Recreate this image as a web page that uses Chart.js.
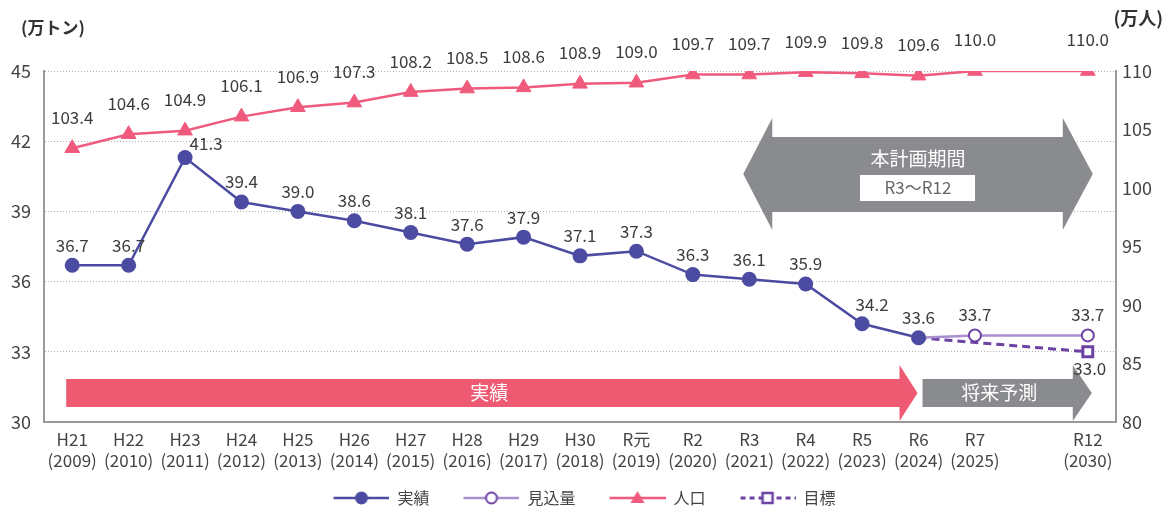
<!DOCTYPE html>
<html>
<head>
<meta charset="utf-8">
<script src="https://cdn.jsdelivr.net/npm/chart.js@4/dist/chart.umd.min.js"></script>
<style>
html, body { margin: 0; padding: 0; background: #fff; }
#wrap { width: 1169px; height: 510px; }
</style>
</head>
<body>
<div id="wrap"><canvas id="chart"></canvas></div>
<script>
'use strict';

// categories (one empty slot between R7 and R12)
const periods = ['H21', 'H22', 'H23', 'H24', 'H25', 'H26', 'H27', 'H28', 'H29', 'H30',
                 'R元', 'R2', 'R3', 'R4', 'R5', 'R6', 'R7', '', 'R12'];
const years = ['(2009)', '(2010)', '(2011)', '(2012)', '(2013)', '(2014)', '(2015)', '(2016)',
               '(2017)', '(2018)', '(2019)', '(2020)', '(2021)', '(2022)', '(2023)', '(2024)',
               '(2025)', '', '(2030)'];

// 万トン
const actual = [36.7, 36.7, 41.3, 39.4, 39.0, 38.6, 38.1, 37.6, 37.9, 37.1,
                37.3, 36.3, 36.1, 35.9, 34.2, 33.6, null, null, null];
const outlook = [null, null, null, null, null, null, null, null, null, null,
                 null, null, null, null, null, 33.6, 33.7, null, 33.7];
const target = [null, null, null, null, null, null, null, null, null, null,
                null, null, null, null, null, 33.6, null, null, 33.0];
// 万人
const population = [103.4, 104.6, 104.9, 106.1, 106.9, 107.3, 108.2, 108.5, 108.6, 108.9,
                    109.0, 109.7, 109.7, 109.9, 109.8, 109.6, 110.0, null, 110.0];

const leftTicks = [30, 33, 36, 39, 42, 45];
const rightTicks = [80, 85, 90, 95, 100, 105, 110];

const FONT = '"Noto Sans CJK JP", "Noto Sans", sans-serif';
Chart.defaults.font.family = FONT;

const colActual = '#4b4ca1';
const colOutlookLine = '#a98fce';
const colOutlookPt = '#6c42a4';
const colPop = '#ef5a7d';
const colTarget = '#6c42a4';
const colPink = '#ee5a72';
const colGray = '#8a8b8f';


// legend icons: 24px blank on the left gives the gap between items
function legendIcon(draw) {
    const c = document.createElement('canvas');
    c.width = 80;
    c.height = 16;
    const g = c.getContext('2d');
    g.translate(24, 0);
    draw(g);
    return c;
}

const icons = [
    legendIcon(g => {
	g.strokeStyle = colActual; g.lineWidth = 2.5;
	g.beginPath(); g.moveTo(0, 8); g.lineTo(56, 8); g.stroke();
	g.fillStyle = colActual;
	g.beginPath(); g.arc(28, 8, 6.5, 0, Math.PI * 2); g.fill();
    }),
    legendIcon(g => {
	g.strokeStyle = colOutlookLine; g.lineWidth = 2.5;
	g.beginPath(); g.moveTo(0, 8); g.lineTo(56, 8); g.stroke();
	g.fillStyle = '#fff'; g.strokeStyle = colOutlookPt; g.lineWidth = 2;
	g.beginPath(); g.arc(28, 8, 5.5, 0, Math.PI * 2); g.fill(); g.stroke();
    }),
    legendIcon(g => {
	g.strokeStyle = colPop; g.lineWidth = 2.5;
	g.beginPath(); g.moveTo(0, 8); g.lineTo(56, 8); g.stroke();
	g.fillStyle = colPop;
	g.beginPath(); g.moveTo(28, 1); g.lineTo(35, 13); g.lineTo(21, 13); g.closePath(); g.fill();
    }),
    legendIcon(g => {
	g.strokeStyle = colTarget; g.lineWidth = 3;
	g.setLineDash([5, 4]);
	g.beginPath(); g.moveTo(1, 8); g.lineTo(56, 8); g.stroke();
	g.setLineDash([]);
	g.fillStyle = '#fff'; g.lineWidth = 2.5;
	g.fillRect(23, 3, 10, 10); g.strokeRect(23, 3, 10, 10);
    }),
];


// value labels above the points
const labelShift = {
    0: { 2: [21, -14], 14: [10, -19] },
    1: { 15: null },
    3: { 15: null, 18: [2, 17] },
};
const labelDy = [-20, -21, -31, 0];

const valueLabels = {
    id: 'valueLabels',
    afterDatasetsDraw(chart) {
	const ctx = chart.ctx;
	ctx.save();
	ctx.font = '17px ' + FONT;
	ctx.fillStyle = '#3c3c3c';
	ctx.textAlign = 'center';
	ctx.textBaseline = 'middle';
	chart.data.datasets.forEach((ds, di) => {
	    const meta = chart.getDatasetMeta(di);
	    meta.data.forEach((pt, i) => {
		const v = ds.data[i];
		if (v == null) return;
		const shifts = labelShift[di] || {};
		if (i in shifts && shifts[i] === null) return;
		const off = shifts[i] || [0, labelDy[di]];
		ctx.fillText(v.toFixed(1), pt.x + off[0], pt.y + off[1]);
	    });
	});
	ctx.restore();
    },
};


// arrows and axis unit titles
const decorations = {
    id: 'decorations',
    beforeDatasetsDraw(chart) {
	const ctx = chart.ctx;
	const x = chart.scales.x;
	const area = chart.chartArea;
	const bottom = area.bottom;
	const top = area.top;

	ctx.save();

	// 実績 arrow
	let x0 = x.getPixelForValue(0) - 6;
	let tip = x.getPixelForValue(15) - 1;
	ctx.fillStyle = colPink;
	ctx.beginPath();
	ctx.moveTo(x0, bottom - 43);
	ctx.lineTo(tip - 18, bottom - 43);
	ctx.lineTo(tip - 18, bottom - 57);
	ctx.lineTo(tip, bottom - 29);
	ctx.lineTo(tip - 18, bottom - 1);
	ctx.lineTo(tip - 18, bottom - 15);
	ctx.lineTo(x0, bottom - 15);
	ctx.closePath();
	ctx.fill();

	// 将来予測 arrow
	x0 = x.getPixelForValue(15) + 4;
	tip = x.getPixelForValue(18) + 4;
	ctx.fillStyle = colGray;
	ctx.beginPath();
	ctx.moveTo(x0, bottom - 43);
	ctx.lineTo(tip - 19, bottom - 43);
	ctx.lineTo(tip - 19, bottom - 57);
	ctx.lineTo(tip, bottom - 29);
	ctx.lineTo(tip - 19, bottom - 1);
	ctx.lineTo(tip - 19, bottom - 15);
	ctx.lineTo(x0, bottom - 15);
	ctx.closePath();
	ctx.fill();

	// 本計画期間 double arrow
	const l = x.getPixelForValue(12) - 6;
	const r = x.getPixelForValue(18) + 5;
	const mid = top + 103;
	ctx.beginPath();
	ctx.moveTo(l, mid);
	ctx.lineTo(l + 29, top + 47);
	ctx.lineTo(l + 29, top + 66);
	ctx.lineTo(r - 30, top + 66);
	ctx.lineTo(r - 30, top + 47);
	ctx.lineTo(r, mid);
	ctx.lineTo(r - 30, top + 159);
	ctx.lineTo(r - 30, top + 141);
	ctx.lineTo(l + 29, top + 141);
	ctx.lineTo(l + 29, top + 159);
	ctx.closePath();
	ctx.fill();

	const cx = (l + r) / 2;
	ctx.fillStyle = '#fff';
	ctx.fillRect(cx - 58, top + 104, 115, 26);

	ctx.textAlign = 'center';
	ctx.textBaseline = 'middle';
	ctx.font = '19px ' + FONT;
	ctx.fillText('本計画期間', cx, top + 88);
	ctx.fillStyle = '#666';
	ctx.font = '17px ' + FONT;
	ctx.fillText('R3～R12', cx, top + 117);

	ctx.fillStyle = '#fff';
	ctx.font = '19px ' + FONT;
	ctx.fillText('実績', (x.getPixelForValue(0) + x.getPixelForValue(15)) / 2 - 6, bottom - 29);
	ctx.fillText('将来予測', (x.getPixelForValue(15) + x.getPixelForValue(18)) / 2 - 4, bottom - 29);

	ctx.restore();
    },
    afterDraw(chart) {
	const ctx = chart.ctx;
	ctx.save();
	ctx.fillStyle = '#333';
	ctx.font = 'bold 17px ' + FONT;
	ctx.textBaseline = 'middle';
	ctx.textAlign = 'left';
	ctx.fillText('(万トン)', 21, 28);
	ctx.font = 'bold 18px ' + FONT;
	ctx.textAlign = 'right';
	ctx.fillText('(万人)', 1163, 18);
	ctx.restore();
    },
};


const chartData = {
    labels: periods,
    datasets: [
	{
	    label: '実績',
	    data: actual,
	    yAxisID: 'y',
	    borderColor: colActual,
	    backgroundColor: colActual,
	    borderWidth: 2.5,
	    pointRadius: 7.5,
	    pointBorderWidth: 0,
	    pointHoverRadius: 7.5,
	},
	{
	    label: '見込量',
	    data: outlook,
	    yAxisID: 'y',
	    spanGaps: true,
	    borderColor: colOutlookLine,
	    backgroundColor: '#fff',
	    borderWidth: 2.5,
	    pointRadius: c => c.dataIndex === 15 ? 0 : 6,
	    pointBorderColor: colOutlookPt,
	    pointBorderWidth: 2,
	    pointBackgroundColor: '#fff',
	},
	{
	    label: '人口',
	    data: population,
	    yAxisID: 'y2',
	    spanGaps: true,
	    borderColor: colPop,
	    backgroundColor: colPop,
	    borderWidth: 2.5,
	    pointStyle: 'triangle',
	    pointRadius: 8.5,
	    pointBorderWidth: 1,
	},
	{
	    label: '目標',
	    data: target,
	    yAxisID: 'y',
	    spanGaps: true,
	    borderColor: colTarget,
	    borderDash: [8, 5],
	    borderWidth: 3,
	    pointStyle: 'rect',
	    pointRadius: c => c.dataIndex === 15 ? 0 : 7,
	    pointBorderColor: colTarget,
	    pointBorderWidth: 3,
	    pointBackgroundColor: '#fff',
	},
    ],
};


const chartConfig = {
    type: 'line',
    data: chartData,
    plugins: [decorations, valueLabels],
    options: {
	responsive: true,
	maintainAspectRatio: false,
	animation: false,
	layout: {
	    // left/right padding moves the centred legend 12px left; axis widths compensate
	    padding: { top: 71, bottom: -6, left: -12, right: 12 },
	},
	plugins: {
	    tooltip: { enabled: false },
	    legend: {
		position: 'bottom',
		labels: {
		    usePointStyle: true,
		    pointStyleWidth: 80,
		    boxHeight: 16,
		    padding: 10,
		    color: '#444',
		    font: { size: 16 },
		    generateLabels: chart => chart.data.datasets.map((ds, i) => ({
			text: ds.label,
			pointStyle: icons[i],
			datasetIndex: i,
			hidden: false,
			lineWidth: 0,
			fontColor: '#444',
		    })),
		},
	    },
	},
	scales: {
	    x: {
		type: 'category',
		offset: true,
		grid: { display: false, drawTicks: false },
		border: { color: '#9a9a9a', width: 2 },
		ticks: {
		    autoSkip: false,
		    maxRotation: 0,
		    padding: 7,
		    color: '#444',
		    font: { size: 17, lineHeight: 1.25 },
		    callback: (val, i) => [periods[i], years[i]],
		},
		afterFit: s => { s.height = 58; },
	    },
	    y: {
		position: 'left',
		min: 30,
		max: 45,
		afterBuildTicks: s => { s.ticks = leftTicks.map(v => ({ value: v })); },
		grid: { color: '#b0b0b0', lineWidth: 1, drawTicks: false },
		border: { color: '#9a9a9a', width: 2, dash: [1, 2] },
		ticks: { padding: 13, color: '#444', font: { size: 18 } },
		afterFit: s => { s.width = 56; },
	    },
	    y2: {
		position: 'right',
		min: 80,
		max: 110,
		afterBuildTicks: s => { s.ticks = rightTicks.map(v => ({ value: v })); },
		grid: { drawOnChartArea: false, drawTicks: false },
		border: { color: '#9a9a9a', width: 2 },
		ticks: { padding: 6, color: '#444', font: { size: 18 } },
		afterFit: s => { s.width = 41; },
	    },
	},
    },
};

const chart = new Chart(document.querySelector('#chart'), chartConfig);
</script>
</body>
</html>
